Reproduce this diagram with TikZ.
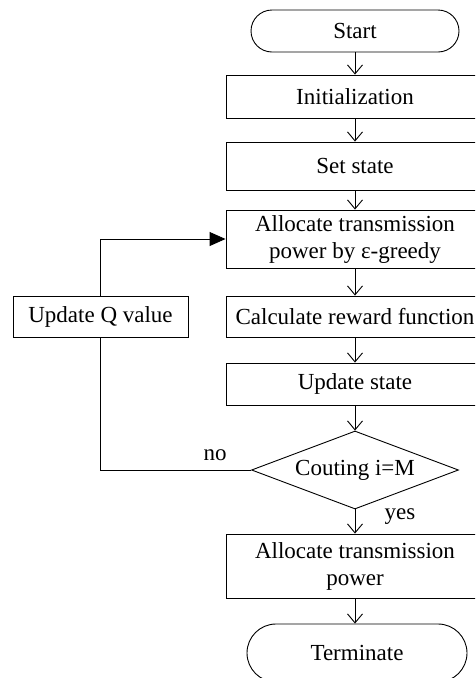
\documentclass[tikz,border=0pt]{standalone}
\usepackage{fontspec}
\setmainfont{Liberation Serif}
\usetikzlibrary{arrows.meta,shapes.geometric}
\begin{document}
\begin{tikzpicture}[x=1pt,y=-1pt,
  every node/.style={font=\fontsize{23}{27}\selectfont},
  box/.style={draw,line width=0.9pt,inner sep=0pt,minimum width=258pt,align=center},
  term/.style={draw,line width=0.9pt,inner sep=0pt,rounded corners=#1,align=center},
  dec/.style={draw,line width=0.9pt,shape=diamond,inner sep=0pt,aspect=2.65,minimum width=207pt,minimum height=78pt},
  flow/.style={line width=0.9pt,-{Straight Barb[length=9pt,width=15pt]}},
  back/.style={line width=0.9pt,-{Triangle[length=16pt,width=14pt]}},
  lbl/.style={inner sep=0pt}]
\useasboundingbox (0,0) rectangle (475,678);
\clip (0,0) rectangle (475,678);
\node[term=21pt,minimum width=208pt,minimum height=42pt] (start) at (355,31) {Start};
\node[box,minimum height=43pt] (init) at (355,96.5) {Initialization};
\node[box,minimum height=48pt] (set) at (355,166) {Set state};
\node[box,minimum height=58pt] (alloc) at (355,239) {Allocate transmission\\power by ε-greedy};
\node[box,minimum height=41pt] (calc) at (355,316.5) {Calculate reward function};
\node[box,minimum height=42pt] (upd) at (355,384) {Update state};
\node[dec] (dia) at (355,470) {Couting i=M};
\node[box,minimum height=64pt] (allocp) at (355,566) {Allocate transmission\\power};
\node[term=29pt,minimum width=220pt,minimum height=58pt] (end) at (357,653) {Terminate};
\node[draw,line width=0.9pt,inner sep=0pt,minimum width=175pt,minimum height=41pt] (updq) at (100.5,316.5) {Update Q value};
\node[lbl] (no) at (215,455) {no};
\node[lbl] (yes) at (400,517) {yes};
\draw[flow] (start) -- (init);
\draw[flow] (init) -- (set);
\draw[flow] (set) -- (alloc);
\draw[flow] (alloc) -- (calc);
\draw[flow] (calc) -- (upd);
\draw[flow] (upd) -- (dia);
\draw[flow] (dia) -- (allocp);
\draw[flow] (allocp.south) -- (allocp.south |- end.north);
\draw[line width=0.9pt] (dia.west) -| (updq.south);
\draw[back] (updq.north) |- (alloc.west);
\end{tikzpicture}
\end{document}
